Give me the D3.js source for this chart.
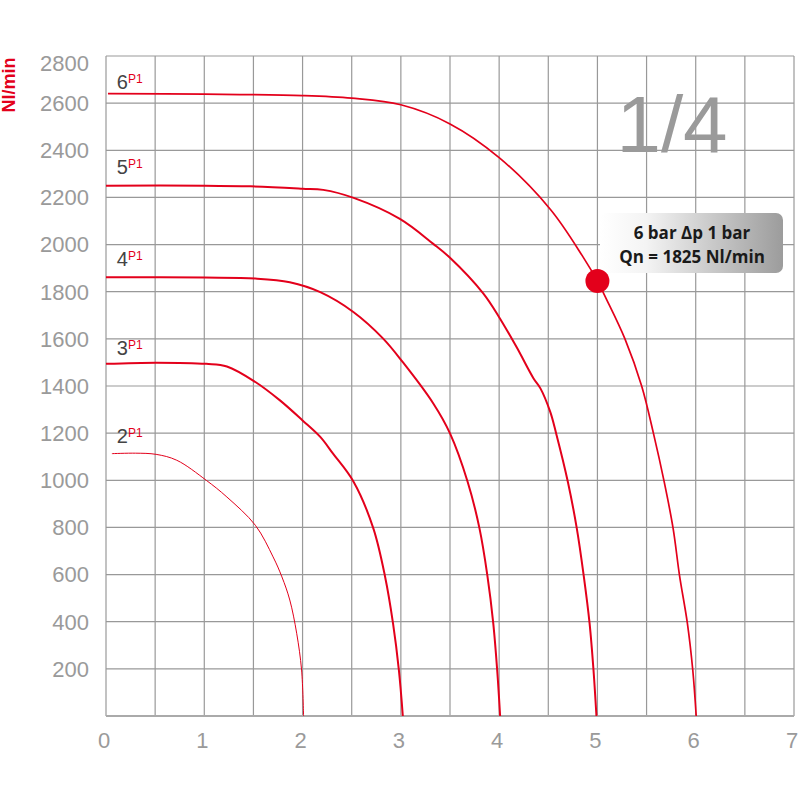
<!DOCTYPE html>
<html>
<head>
<meta charset="utf-8">
<script src="https://cdn.jsdelivr.net/npm/d3@7"></script>
<style>
  html, body { margin: 0; padding: 0; background: #fff; }
  svg { display: block; }
</style>
</head>
<body>
<svg id="chart" width="800" height="800"></svg>
<script>
// ---- data ----
const xTicks = [0, 1, 2, 3, 4, 5, 6, 7];
const yTicks = [200, 400, 600, 800, 1000, 1200, 1400, 1600, 1800, 2000, 2200, 2400, 2600, 2800];
const pressures = [2, 3, 4, 5, 6];
const curve2x = [0.06, 0.3, 0.51, 0.72, 1.02, 1.23, 1.52, 1.7, 1.79, 1.87, 1.94, 1.99, 2.01];
const curve2y = [1113, 1115, 1110, 1085, 1000, 929, 809, 675, 590, 492, 351, 195, 0];
const curve3x = [0, 0.51, 1.02, 1.23, 1.52, 1.77, 2.0, 2.18, 2.31, 2.52, 2.72, 2.84, 2.92, 2.98, 3.02];
const curve3y = [1494, 1499, 1494, 1483, 1417, 1339, 1254, 1184, 1113, 993, 796, 590, 394, 195, 0];
const curve4x = [0, 1.0, 1.52, 1.87, 2.18, 2.52, 2.82, 3.02, 3.33, 3.5, 3.68, 3.8, 3.88, 3.94, 3.98, 4.01];
const curve4y = [1861, 1860, 1856, 1840, 1798, 1713, 1601, 1501, 1326, 1199, 993, 796, 597, 394, 195, 0];
const curve5x = [0, 1.0, 1.47, 2.0, 2.21, 2.52, 2.99, 3.33, 3.5, 3.84, 4.0, 4.18, 4.35, 4.42, 4.52, 4.58, 4.7, 4.79, 4.86, 4.92, 4.96, 4.99];
const curve5y = [2250, 2250, 2247, 2237, 2232, 2198, 2109, 2003, 1944, 1792, 1692, 1563, 1432, 1390, 1290, 1199, 992, 796, 597, 394, 195, 0];
const curve6x = [0.02, 1, 2, 2.5, 3, 3.5, 4, 4.52, 4.85, 5, 5.09, 5.28, 5.45, 5.57, 5.68, 5.77, 5.835, 5.915, 5.97, 6.005];
const curve6y = [2640, 2638, 2632, 2621, 2593, 2512, 2369, 2150, 1950, 1845, 1770, 1600, 1400, 1199, 992, 796, 597, 394, 195, 0];
const labelX = 0.1;
const labelY = [1158, 1530, 1910, 2300, 2660];
const pointX = 5;
const pointY = 1845;
const noteLines = ["6 bar \u0394p 1 bar", "Qn = 1825 Nl/min"];
const yTitle = "Nl/min";
const bigLabel = "1/4";

// ---- layout ----
const svg = d3.select("#chart");
const red = "#e3001b";
const x = d3.scaleLinear().domain([0, 7]).range([106, 794]);
const y = d3.scaleLinear().domain([0, 2800]).range([716, 56]);

// grid
const g = svg.append("g");
const vLines = d3.range(0, 7.01, 0.5);
g.selectAll("line.v").data(vLines).join("line")
  .attr("x1", d => x(d)).attr("x2", d => x(d))
  .attr("y1", y(2800)).attr("y2", y(0))
  .attr("stroke", "#999").attr("stroke-width", 1.2);
const hLines = d3.range(200, 2801, 200);
g.selectAll("line.h").data(hLines).join("line")
  .attr("x1", x(0)).attr("x2", x(7))
  .attr("y1", d => y(d)).attr("y2", d => y(d))
  .attr("stroke", "#999").attr("stroke-width", 1.2);
// bottom axis line
g.append("line").attr("x1", x(0)).attr("x2", x(7)).attr("y1", y(0)).attr("y2", y(0))
  .attr("stroke", "#aaa").attr("stroke-width", 2);

// y tick labels
svg.append("g").selectAll("text").data(yTicks).join("text")
  .attr("x", 89)
  .attr("y", d => Math.max(y(d), 63))
  .attr("dy", "0.36em")
  .attr("text-anchor", "end")
  .attr("font-family", "Liberation Sans, Arial, sans-serif")
  .attr("font-size", 22)
  .attr("fill", "#9a9a9a")
  .text(d => d);

// x tick labels
svg.append("g").selectAll("text").data(xTicks).join("text")
  .attr("x", d => x(d) - 2)
  .attr("y", 748)
  .attr("text-anchor", "middle")
  .attr("font-family", "Liberation Sans, Arial, sans-serif")
  .attr("font-size", 22)
  .attr("fill", "#9a9a9a")
  .text(d => d);

// y title
svg.append("text")
  .attr("transform", "translate(15,85) rotate(-90)")
  .attr("text-anchor", "middle")
  .attr("font-family", "Liberation Sans, Arial, sans-serif")
  .attr("font-weight", "bold")
  .attr("font-size", 18)
  .attr("fill", red)
  .text(yTitle);

// big 1/4
svg.append("text")
  .attr("x", 672).attr("y", 152)
  .attr("text-anchor", "middle")
  .attr("font-family", "Liberation Sans, Arial, sans-serif")
  .attr("font-size", 80)
  .attr("fill", "#9a9a9a")
  .text(bigLabel);

// curves
const curves = [
  {p: 2, xs: curve2x, ys: curve2y, w: 1},
  {p: 3, xs: curve3x, ys: curve3y, w: 2},
  {p: 4, xs: curve4x, ys: curve4y, w: 2},
  {p: 5, xs: curve5x, ys: curve5y, w: 2},
  {p: 6, xs: curve6x, ys: curve6y, w: 1.7}
];
const line = d3.line().x(d => x(d[0])).y(d => y(d[1])).curve(d3.curveCatmullRom.alpha(0.5));
svg.append("g").selectAll("path").data(curves).join("path")
  .attr("d", c => line(c.xs.map((v, i) => [v, c.ys[i]])))
  .attr("fill", "none")
  .attr("stroke", red)
  .attr("stroke-width", c => c.w);

// curve labels
const lab = svg.append("g").selectAll("text").data(pressures).join("text")
  .attr("x", x(labelX) + 1)
  .attr("y", (d, i) => y(labelY[i]))
  .attr("font-family", "Liberation Sans, Arial, sans-serif")
  .attr("font-size", 20)
  .attr("fill", "#444");
lab.append("tspan").text(d => d);
lab.append("tspan").attr("dy", -6).attr("font-size", 12).attr("fill", red).text("P1");

// annotation box
const defs = svg.append("defs");
const grad = defs.append("linearGradient").attr("id", "boxGrad")
  .attr("x1", "0%").attr("x2", "100%").attr("y1", "0%").attr("y2", "0%");
grad.append("stop").attr("offset", "0%").attr("stop-color", "#ffffff");
grad.append("stop").attr("offset", "25%").attr("stop-color", "#f4f4f4");
grad.append("stop").attr("offset", "100%").attr("stop-color", "#9c9c9c");
svg.append("rect")
  .attr("x", 600).attr("y", 213).attr("width", 183).attr("height", 60)
  .attr("rx", 7).attr("ry", 7)
  .attr("fill", "url(#boxGrad)");
svg.append("g").selectAll("text").data(noteLines).join("text")
  .attr("x", 692)
  .attr("y", (d, i) => 239 + i * 24)
  .attr("text-anchor", "middle")
  .attr("font-family", "Open Sans, Liberation Sans, sans-serif")
  .attr("font-weight", "bold")
  .attr("font-size", 17)
  .attr("fill", "#1a1a1a")
  .text(d => d);

// operating point
svg.append("circle")
  .attr("cx", x(pointX)).attr("cy", y(pointY)).attr("r", 12)
  .attr("fill", red);
</script>
</body>
</html>
